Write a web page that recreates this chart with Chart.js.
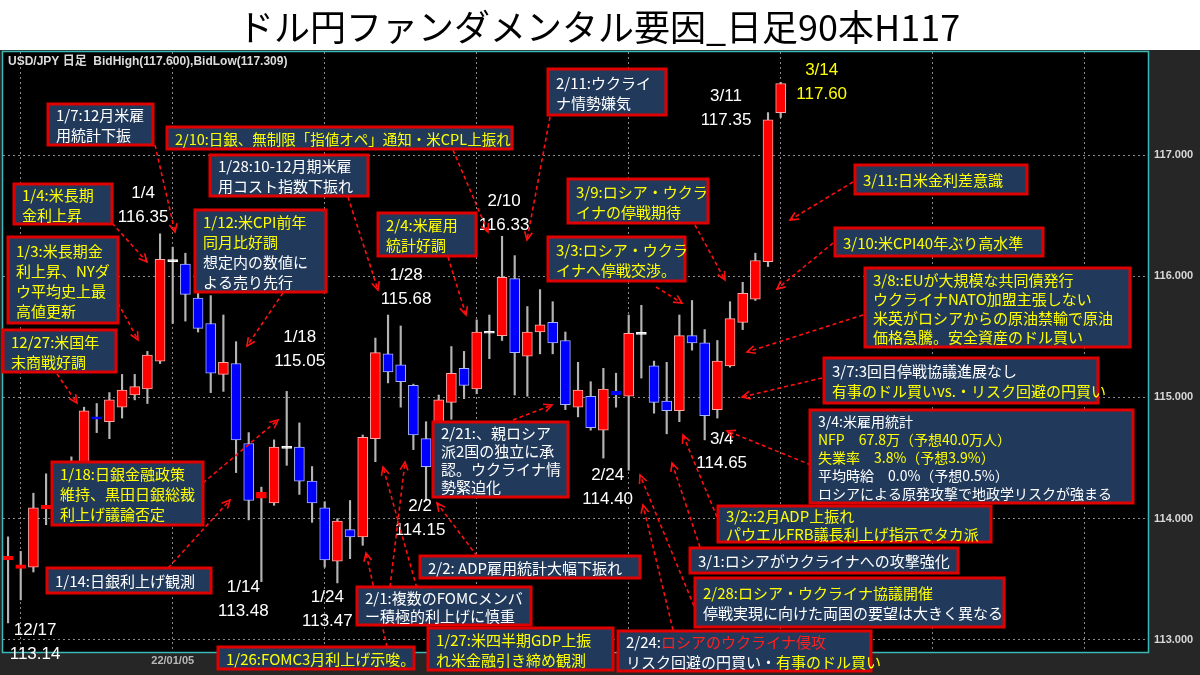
<!DOCTYPE html>
<html>
<head>
<meta charset="utf-8">
<script src="https://cdn.jsdelivr.net/npm/chart.js@4.4.1/dist/chart.umd.min.js"></script>
<style>
html, body { margin: 0; padding: 0; background: #fff; }
</style>
</head>
<body>
<canvas id="candle" width="1200" height="675"></canvas>
<script>
// USD/JPY daily, 12/17 - 3/14 (62 bars, chart has room for 90)
var dates = ["12/17", "12/20", "12/21", "12/22", "12/23", "12/24", "12/27", "12/28", "12/29", "12/30", "12/31",
	"1/3", "1/4", "1/5", "1/6", "1/7", "1/10", "1/11", "1/12", "1/13", "1/14", "1/17", "1/18", "1/19", "1/20", "1/21",
	"1/24", "1/25", "1/26", "1/27", "1/28", "1/31", "2/1", "2/2", "2/3", "2/4", "2/7", "2/8", "2/9", "2/10", "2/11",
	"2/14", "2/15", "2/16", "2/17", "2/18", "2/21", "2/22", "2/23", "2/24", "2/25", "2/28", "3/1", "3/2", "3/3", "3/4",
	"3/7", "3/8", "3/9", "3/10", "3/11", "3/14"];
var opens = [113.66, 113.59, 113.60, 114.08, 114.11, 114.40, 114.38, 114.84, 114.80, 114.92, 115.02,
	115.07, 115.30, 116.12, 116.10, 115.82, 115.61, 115.19, 115.28, 114.62, 114.17, 114.13, 114.58, 114.59, 114.31, 114.09,
	113.65, 113.91, 113.85, 114.66, 115.36, 115.27, 115.10, 114.66, 114.43, 114.96, 115.24, 115.07, 115.53, 115.51, 115.98,
	115.34, 115.54, 115.62, 115.47, 114.92, 115.01, 114.73, 115.05, 115.01, 115.52, 115.26, 114.97, 114.89, 115.51, 115.45,
	114.90, 115.26, 115.62, 115.81, 116.12, 117.35];
var highs = [113.85, 113.73, 114.21, 114.37, 114.45, 114.51, 114.92, 114.95, 115.04, 115.19, 115.19,
	115.38, 116.35, 116.24, 116.19, 115.86, 115.84, 115.68, 115.46, 114.71, 114.26, 114.65, 115.05, 114.79, 114.43, 114.14,
	114.00, 114.15, 114.69, 115.49, 115.68, 115.59, 115.11, 114.80, 115.02, 115.42, 115.38, 115.64, 115.68, 116.33, 116.17,
	115.75, 115.89, 115.79, 115.54, 115.29, 115.13, 115.24, 115.20, 115.68, 115.76, 115.30, 115.29, 115.68, 115.80, 115.56,
	115.47, 115.79, 115.95, 116.19, 117.35, 117.60];
var lows = [113.14, 113.33, 113.56, 113.95, 114.02, 114.30, 114.35, 114.71, 114.66, 114.83, 114.98,
	114.95, 115.28, 115.61, 115.63, 115.54, 115.04, 115.05, 114.38, 113.99, 113.48, 114.11, 114.44, 114.20, 113.97, 113.60,
	113.47, 113.67, 113.78, 114.47, 115.12, 114.92, 114.57, 114.15, 114.37, 114.82, 114.99, 115.03, 115.32, 115.47, 115.02,
	115.01, 115.36, 115.36, 114.90, 114.84, 114.73, 114.50, 114.92, 114.40, 115.16, 114.87, 114.70, 114.80, 115.39, 114.65,
	114.83, 115.25, 115.56, 115.80, 116.08, 117.31];
var closes = [113.69, 113.62, 114.09, 114.11, 114.40, 114.38, 114.89, 114.82, 114.98, 115.06, 115.09,
	115.35, 116.14, 116.12, 115.85, 115.57, 115.20, 115.29, 114.65, 114.15, 114.22, 114.59, 114.58, 114.31, 114.13, 113.66,
	113.98, 113.85, 114.67, 115.37, 115.21, 115.13, 114.69, 114.43, 114.98, 115.20, 115.10, 115.54, 115.53, 115.99, 115.37,
	115.54, 115.60, 115.45, 114.94, 115.06, 114.75, 115.07, 115.02, 115.53, 115.52, 114.96, 114.89, 115.51, 115.45, 114.85,
	115.30, 115.65, 115.86, 116.13, 117.29, 117.59];
var yTicks = [113, 114, 115, 116, 117];
var xGridBars = [1, 13, 25, 37, 49, 61, 73, 85];
var xTickText = { 13: "22/01/05" };

var title = "ドル円ファンダメンタル要因_日足90本H117";
var header = "USD/JPY 日足  BidHigh(117.600),BidLow(117.309)";

var JP = "'Noto Sans CJK JP', sans-serif";
var Y = "#ffff00", W = "#ffffff", R = "#ff2020";

// high / low labels: [bar index, "high"|"low", dx, dy, colour]
var extremes = [
	[0, "low", 27, 7, W], [12, "high", -17, -41, W], [20, "low", -18, 6, W], [22, "high", 13, -54, W],
	[26, "low", -10, 14, W], [30, "high", 18, -40, W], [33, "low", -6, 6, W], [39, "high", 2, -35, W],
	[49, "low", -21, 5, W], [55, "low", 17, -1, W], [60, "high", -42, -16, W], [61, "high", 41, -12, Y]
];

// news boxes: b = [x, y, w, h], lines of [colour, text] pieces, a = arrows
var notes = [
	{ b: [48, 104, 105, 41], t: [[[W, "1/7:12月米雇"]], [[W, "用統計下振"]]], a: [[155, 145, 175, 232]] },
	{ b: [167, 127, 345, 22], t: [[[Y, "2/10:日銀、無制限「指値オペ」通知・米CPL上振れ"]]], a: [[453, 150, 488, 232]], fs: 14.5 },
	{ b: [210, 155, 158, 41], t: [[[W, "1/28:10-12月期米雇"]], [[W, "用コスト指数下振れ"]]], a: [[348, 197, 378, 290]] },
	{ b: [14, 184, 98, 40], t: [[[Y, "1/4:米長期"]], [[Y, "金利上昇"]]], a: [[112, 223, 147, 262]] },
	{ b: [195, 210, 131, 82], t: [[[Y, "1/12:米CPI前年"]], [[Y, "同月比好調"]], [[W, "想定内の数値に"]], [[W, "よる売り先行"]]], a: [[283, 293, 247, 346]] },
	{ b: [8, 237, 110, 86], t: [[[Y, "1/3:米長期金"]], [[Y, "利上昇、NYダ"]], [[Y, "ウ平均史上最"]], [[Y, "高値更新"]]], a: [[118, 303, 138, 340]] },
	{ b: [3, 330, 113, 42], t: [[[Y, "12/27:米国年"]], [[Y, "末商戦好調"]]], a: [[57, 374, 77, 403]] },
	{ b: [378, 213, 98, 43], t: [[[Y, "2/4:米雇用"]], [[Y, "統計好調"]]], a: [[448, 257, 466, 315]] },
	{ b: [548, 69, 118, 46], t: [[[W, "2/11:ウクライ"]], [[W, "ナ情勢嫌気"]]], a: [[550, 117, 527, 240]] },
	{ b: [568, 179, 140, 44], t: [[[Y, "3/9:ロシア・ウクラ"]], [[Y, "イナの停戦期待"]]], a: [[695, 225, 725, 280]] },
	{ b: [548, 237, 137, 44], t: [[[Y, "3/3:ロシア・ウクラ"]], [[Y, "イナへ停戦交渉。"]]], a: [[656, 287, 682, 303]] },
	{ b: [855, 165, 172, 29], t: [[[Y, "3/11:日米金利差意識"]]], a: [[853, 182, 790, 220]] },
	{ b: [835, 228, 208, 28], t: [[[Y, "3/10:米CPI40年ぶり高水準"]]], a: [[833, 243, 777, 289]] },
	{ b: [865, 268, 265, 79], t: [[[Y, "3/8::EUが大規模な共同債発行"]], [[Y, "ウクライナNATO加盟主張しない"]],
		[[Y, "米英がロシアからの原油禁輸で原油"]], [[Y, "価格急騰。安全資産のドル買い"]]], a: [[863, 315, 747, 352]], lh: 19 },
	{ b: [824, 358, 274, 45], t: [[[W, "3/7:3回目停戦協議進展なし"]], [[Y, "有事のドル買いvs.・リスク回避の円買い"]]], a: [[822, 378, 742, 397]] },
	{ b: [810, 410, 323, 93], t: [[[W, "3/4:米雇用統計"]], [[Y, "NFP　67.8万（予想40.0万人）"]], [[Y, "失業率　3.8%（予想3.9%）"]],
		[[W, "平均時給　0.0%（予想0.5%）"]], [[W, "ロシアによる原発攻撃で地政学リスクが強まる"]]], a: [[811, 465, 727, 431]], fs: 14, lh: 18 },
	{ b: [433, 422, 135, 75], t: [[[W, "2/21:、親ロシア"]], [[W, "派2国の独立に承"]], [[W, "認。ウクライナ情"]], [[W, "勢緊迫化"]]], a: [[513, 420, 552, 405]], lh: 18 },
	{ b: [420, 556, 220, 22], t: [[[W, "2/2: ADP雇用統計大幅下振れ"]]], a: [[477, 556, 437, 503]] },
	{ b: [718, 506, 273, 36], t: [[[Y, "3/2::2月ADP上振れ"]], [[Y, "パウエルFRB議長利上げ指示でタカ派"]]], a: [[717, 517, 683, 435]], lh: 18 },
	{ b: [690, 548, 268, 25], t: [[[W, "3/1:ロシアがウクライナへの攻撃強化"]]], a: [[700, 547, 672, 463]] },
	{ b: [695, 578, 309, 49], t: [[[Y, "2/28:ロシア・ウクライナ協議開催"]], [[W, "停戦実現に向けた両国の要望は大きく異なる"]]], a: [[694, 606, 640, 475]] },
	{ b: [618, 631, 253, 40], t: [[[W, "2/24:"], [R, "ロシアのウクライナ侵攻"]], [[W, "リスク回避の円買い・"], [Y, "有事のドル買い"]]], a: [[673, 630, 643, 505]] },
	{ b: [428, 628, 185, 42], t: [[[Y, "1/27:米四半期GDP上振"]], [[Y, "れ米金融引き締め観測"]]], a: [[428, 628, 383, 467]] },
	{ b: [357, 587, 174, 38], t: [[[W, "2/1:複数のFOMCメンバ"]], [[W, "ー積極的利上げに慎重"]]], a: [[390, 587, 405, 462]], lh: 18 },
	{ b: [218, 647, 196, 22], t: [[[Y, "1/26:FOMC3月利上げ示唆。"]]], a: [[387, 647, 366, 553]] },
	{ b: [47, 568, 164, 25], t: [[[W, "1/14:日銀利上げ観測"]]], a: [[168, 568, 230, 500]] },
	{ b: [52, 462, 151, 63], t: [[[Y, "1/18:日銀金融政策"]], [[Y, "維持、黒田日銀総裁"]], [[Y, "利上げ議論否定"]]], a: [[203, 483, 278, 420]] }
];

function candleColor(i) {
	if (opens[i] === closes[i]) return "#ffffff";
	return closes[i] > opens[i] ? "#ff0000" : "#0000ff";
}
function candleBorder(i) {
	if (opens[i] === closes[i]) return "#ffffff";
	// very short bodies keep their fill colour so they do not turn pale
	if (Math.abs(closes[i] - opens[i]) < 0.05) return candleColor(i);
	return closes[i] > opens[i] ? "#ffa8a8" : "#a8b4ff";
}

function drawArrow(ctx, x1, y1, x2, y2) {
	ctx.setLineDash([4, 3]);
	ctx.beginPath();
	ctx.moveTo(x1, y1);
	ctx.lineTo(x2, y2);
	ctx.stroke();
	ctx.setLineDash([]);
	var ang = Math.atan2(y2 - y1, x2 - x1), L = 9;
	ctx.beginPath();
	ctx.moveTo(x2 - L * Math.cos(ang - 0.45), y2 - L * Math.sin(ang - 0.45));
	ctx.lineTo(x2, y2);
	ctx.lineTo(x2 - L * Math.cos(ang + 0.45), y2 - L * Math.sin(ang + 0.45));
	ctx.stroke();
}

var decor = {
	id: "decor",
	beforeDraw: function(chart) {
		var ctx = chart.ctx, a = chart.chartArea;
		ctx.save();
		ctx.fillStyle = "#ffffff";
		ctx.fillRect(0, 0, chart.width, chart.height);
		ctx.fillStyle = "#262626";
		ctx.fillRect(0, a.top - 2, chart.width, chart.height - a.top + 2);
		ctx.fillStyle = "#000000";
		ctx.fillRect(a.left, a.top, a.right - a.left, a.bottom - a.top);
		ctx.fillStyle = "#000000";
		ctx.font = "36px " + JP;
		ctx.textAlign = "center";
		ctx.textBaseline = "middle";
		ctx.fillText(title, 599, 27);
		ctx.restore();
	},
	afterDraw: function(chart) {
		var ctx = chart.ctx, a = chart.chartArea;
		var xs = chart.scales.x, ys = chart.scales.y;
		ctx.save();
		// frame
		ctx.strokeStyle = "#3cb8b8";
		ctx.lineWidth = 1.5;
		ctx.strokeRect(a.left - 0.5, a.top - 0.5, a.right - a.left + 1, a.bottom - a.top + 1);
		// header
		ctx.fillStyle = "#dddddd";
		ctx.font = "bold 12px 'Liberation Sans', " + JP;
		ctx.textAlign = "left";
		ctx.textBaseline = "middle";
		ctx.fillText(header, 8, 62);
		// high / low labels
		ctx.font = "17px 'Liberation Sans', sans-serif";
		ctx.textAlign = "center";
		extremes.forEach(function(e) {
			var i = e[0];
			var v = e[1] === "high" ? highs[i] : lows[i];
			var x = xs.getPixelForValue(i) + e[2];
			var y = ys.getPixelForValue(v) + e[3];
			ctx.fillStyle = e[4];
			ctx.fillText(dates[i], x, y);
			ctx.fillText(v.toFixed(2), x, y + 24);
		});
		// arrows first, boxes over them
		ctx.strokeStyle = "#ff1010";
		ctx.lineWidth = 1.6;
		notes.forEach(function(n) {
			n.a.forEach(function(p) { drawArrow(ctx, p[0], p[1], p[2], p[3]); });
		});
		notes.forEach(function(n) {
			var b = n.b, fs = n.fs || 15, lh = n.lh || 20;
			ctx.fillStyle = "#213a5c";
			ctx.fillRect(b[0], b[1], b[2], b[3]);
			ctx.strokeStyle = "#e00000";
			ctx.lineWidth = 3;
			ctx.strokeRect(b[0], b[1], b[2], b[3]);
			ctx.font = fs + "px " + JP;
			ctx.textAlign = "left";
			ctx.textBaseline = "middle";
			var y0 = b[1] + b[3] / 2 - (n.t.length - 1) * lh / 2;
			n.t.forEach(function(line, k) {
				var x = b[0] + 8;
				line.forEach(function(seg) {
					ctx.fillStyle = seg[0];
					ctx.fillText(seg[1], x, y0 + k * lh + 1);
					x += ctx.measureText(seg[1]).width;
				});
			});
		});
		ctx.restore();
	}
};

var bodyData = dates.map(function(d, i) { return { x: i, y: [opens[i], closes[i]] }; });
var wickData = dates.map(function(d, i) { return { x: i, y: [lows[i], highs[i]] }; });

var candleChart = new Chart(document.getElementById("candle"), {
	type: "bar",
	data: {
		datasets: [ {
			data: bodyData,
			backgroundColor: dates.map(function(d, i) { return candleColor(i); }),
			borderColor: dates.map(function(d, i) { return candleBorder(i); }),
			borderWidth: 1,
			borderSkipped: false,
			barThickness: 10,
			minBarLength: 2,
			order: 0
		}, {
			data: wickData,
			backgroundColor: "#b4b4b4",
			borderWidth: 0,
			barThickness: 1.5,
			order: 1
		} ]
	},
	options: {
		responsive: false,
		devicePixelRatio: 1,
		animation: false,
		datasets: { bar: { grouped: false } },
		layout: { padding: { top: 52, left: 3, right: 0, bottom: 3 } },
		plugins: { legend: { display: false }, tooltip: { enabled: false } },
		scales: {
			x: {
				type: "linear",
				offset: false,
				min: -0.4,
				max: 90,
				afterBuildTicks: function(scale) {
					scale.ticks = xGridBars.map(function(v) { return { value: v }; });
				},
				afterFit: function(scale) { scale.height = 20; },
				ticks: {
					autoSkip: false,
					maxRotation: 0,
					padding: 2,
					color: "#b8b8b8",
					font: { size: 11, weight: "bold", family: "'Liberation Sans', sans-serif" },
					callback: function(v) { return xTickText[v] || ""; }
				},
				grid: { color: "#8a8a8a", drawTicks: false, offset: false },
				border: { display: false, dash: [2, 3] }
			},
			y: {
				position: "right",
				min: 112.9,
				max: 117.85,
				afterBuildTicks: function(scale) {
					scale.ticks = yTicks.map(function(v) { return { value: v }; });
				},
				afterFit: function(scale) { scale.width = 52; },
				ticks: {
					padding: 6,
					color: "#d8d8d8",
					font: { size: 11, weight: "bold", family: "'Liberation Sans', sans-serif" },
					callback: function(v) { return v.toFixed(3); }
				},
				grid: { color: "#8a8a8a", drawTicks: false },
				border: { display: false, dash: [2, 3] }
			}
		}
	},
	plugins: [ decor ]
});
</script>
</body>
</html>
